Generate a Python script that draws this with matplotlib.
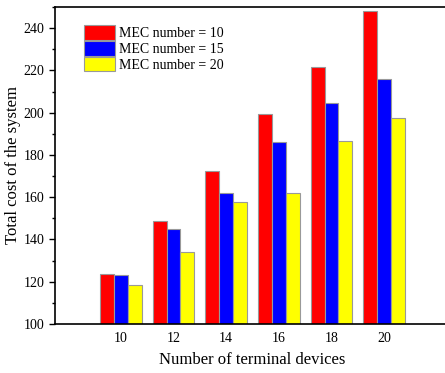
import numpy as np
import matplotlib
matplotlib.use('Agg')
import matplotlib.pyplot as plt
from matplotlib.ticker import MultipleLocator

plt.rcParams['font.family'] = ['Liberation Serif', 'DejaVu Serif']

devices = [10, 12, 14, 16, 18, 20]
cost_mec10 = [123.5, 148.8, 172.2, 199.5, 221.7, 248.1]
cost_mec15 = [123.0, 144.8, 162.0, 186.2, 204.4, 215.7]
cost_mec20 = [118.3, 134.0, 157.7, 161.8, 186.5, 197.3]
labels = ['MEC number = 10', 'MEC number = 15', 'MEC number = 20']
colors = ['#ff0000', '#0000ff', '#ffff00']

fig = plt.figure(figsize=(4.45, 3.73), dpi=100)
ax = fig.add_axes([55 / 445, 49 / 373, 395 / 445, 317 / 373])

x = np.array(devices, dtype=float)
w = 0.527
for i, (vals, lab, c) in enumerate(zip([cost_mec10, cost_mec15, cost_mec20], labels, colors)):
    ax.bar(x + (i - 1) * w, np.array(vals) - 100, bottom=100, width=w,
           color=c, edgecolor='#999999', linewidth=0.8, label=lab)

ax.set_xlim(7.5, 22.5)
ax.set_ylim(100, 250)
ax.set_xticks(devices)
ax.yaxis.set_major_locator(MultipleLocator(20))
ax.yaxis.set_minor_locator(MultipleLocator(10))
ax.tick_params(axis='x', length=0, labelsize=10, pad=6)
ax.tick_params(axis='y', which='major', direction='out', length=4, width=1, labelsize=10)
ax.tick_params(axis='y', which='minor', direction='out', length=2.5, width=1)
ax.spines['right'].set_visible(False)
for s in ['left', 'bottom', 'top']:
    ax.spines[s].set_linewidth(1.2)

ax.set_xlabel('Number of terminal devices', fontsize=12, labelpad=5)
ax.set_ylabel('Total cost of the system', fontsize=12, labelpad=2)

ax.legend(loc='upper left', bbox_to_anchor=(0.06, 0.96), frameon=False, fontsize=10,
          handlelength=2.2, handleheight=1.25, handletextpad=0.3, labelspacing=0.05,
          borderaxespad=0)

fig.savefig('out.png', dpi=100)
